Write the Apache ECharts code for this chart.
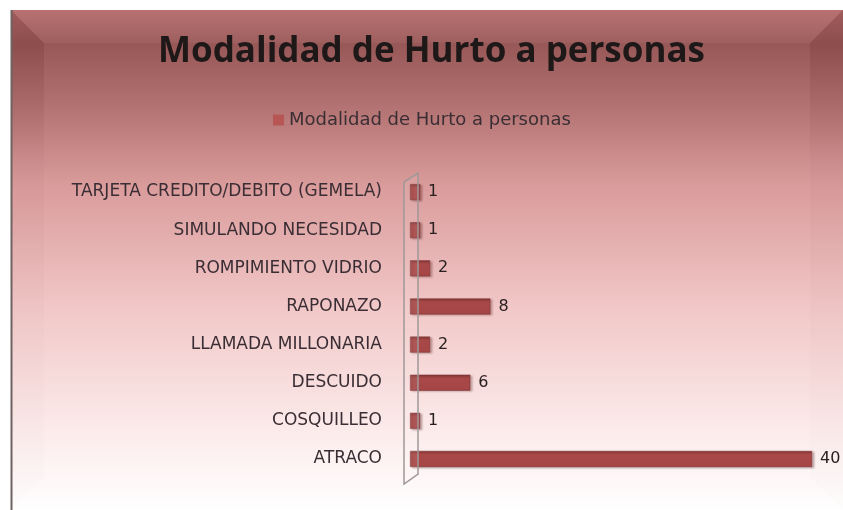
<!DOCTYPE html>
<html>
<head>
<meta charset="utf-8">
<script src="https://cdn.jsdelivr.net/npm/echarts@6/dist/echarts.min.js"></script>
<style>
html,body{margin:0;padding:0;background:#fff;}
#main{width:843px;height:510px;}
</style>
</head>
<body>
<div id="main"></div>
<script>
// categorias (de abajo hacia arriba) y valores
var categorias = ['ATRACO', 'COSQUILLEO', 'DESCUIDO', 'LLAMADA MILLONARIA', 'RAPONAZO', 'ROMPIMIENTO VIDRIO', 'SIMULANDO NECESIDAD', 'TARJETA CREDITO/DEBITO (GEMELA)'];
var valores = [40, 1, 6, 2, 8, 2, 1, 1];
var serieNombre = 'Modalidad de Hurto a personas';
var titulo = 'Modalidad de Hurto a personas';

var myChart = echarts.init(document.getElementById('main'));

var option = {
    backgroundColor: '#fff',
    animation: false,
    title: {
        text: titulo,
        left: 158,
        top: 35,
        padding: 0,
        textStyle: {fontFamily: 'Open Sans', fontSize: 35, fontWeight: 'bold', color: '#1e1818'}
    },
    legend: {
        data: [serieNombre],
        top: 106,
        left: 268,
        icon: 'rect',
        itemWidth: 11,
        itemHeight: 11,
        itemGap: 9,
        itemStyle: {color: '#b85656', borderWidth: 0},
        textStyle: {fontFamily: 'DejaVu Sans', fontSize: 18, color: '#3a2e34'}
    },
    graphic: [
        // fondo con degradado
        {type: 'rect', z: -10, shape: {x: 11, y: 10, width: 832, height: 500},
            style: {fill: new echarts.graphic.LinearGradient(0, 0, 0, 1, [
                {offset: 0, color: '#b46c6c'},
                {offset: 0.07, color: '#985858'},
                {offset: 0.2, color: '#b47474'},
                {offset: 0.35, color: '#da9b9b'},
                {offset: 0.6, color: '#f2c8c8'},
                {offset: 0.85, color: '#fcecec'},
                {offset: 1, color: '#ffffff'}
            ])}},
        // biseles
        {type: 'polygon', z: -9, shape: {points: [[11, 10], [44, 43], [44, 477], [11, 510]]},
            style: {fill: new echarts.graphic.LinearGradient(0, 0, 0, 1, [
                {offset: 0, color: 'rgba(80,20,20,0.2)'},
                {offset: 0.3, color: 'rgba(100,40,40,0.03)'},
                {offset: 1, color: 'rgba(120,80,80,0.01)'}
            ])}},
        {type: 'polygon', z: -9, shape: {points: [[843, 10], [810, 43], [810, 477], [843, 510]]},
            style: {fill: new echarts.graphic.LinearGradient(0, 0, 0, 1, [
                {offset: 0, color: 'rgba(80,20,20,0.2)'},
                {offset: 0.3, color: 'rgba(100,40,40,0.03)'},
                {offset: 1, color: 'rgba(120,80,80,0.01)'}
            ])}},
        {type: 'polygon', z: -9, shape: {points: [[11, 10], [843, 10], [810, 43], [44, 43]]},
            style: {fill: 'rgba(255,200,200,0.06)'}},
        {type: 'line', z: -8, shape: {x1: 11.5, y1: 10, x2: 11.5, y2: 510},
            style: {stroke: '#6e6262', lineWidth: 2}},
        // pared 3D del eje
        {type: 'polyline', z: 5, shape: {points: [[404, 182], [418, 173], [418, 474], [404, 484], [404, 182]]},
            style: {stroke: '#a09898', lineWidth: 1.5, fill: 'rgba(255,255,255,0.08)'}}
    ],
    grid: {
        left: 410,
        right: 31,
        top: 173,
        bottom: 32,
        containLabel: false
    },
    xAxis: {
        type: 'value',
        min: 0,
        max: 40,
        show: false,
        splitLine: {show: false}
    },
    yAxis: {
        type: 'category',
        data: categorias,
        axisLine: {show: false},
        axisTick: {show: false},
        axisLabel: {margin: 28, fontFamily: 'DejaVu Sans', fontSize: 17, color: '#3a2e34'}
    },
    series: [{
        name: serieNombre,
        type: 'bar',
        data: valores,
        barWidth: 16,
        itemStyle: {
            color: new echarts.graphic.LinearGradient(0, 0, 0, 1, [
                {offset: 0, color: '#8a3838'},
                {offset: 0.22, color: '#a84848'},
                {offset: 1, color: '#a64545'}
            ]),
            borderColor: '#7a3030',
            borderWidth: 0.5,
            shadowColor: 'rgba(60,0,0,0.3)',
            shadowOffsetX: 2,
            shadowOffsetY: 1,
            shadowBlur: 2
        },
        label: {
            show: true,
            position: 'right',
            distance: 8,
            fontFamily: 'DejaVu Sans',
            fontSize: 16,
            color: '#2a2020'
        }
    }]
};

myChart.setOption(option);
</script>
</body>
</html>
